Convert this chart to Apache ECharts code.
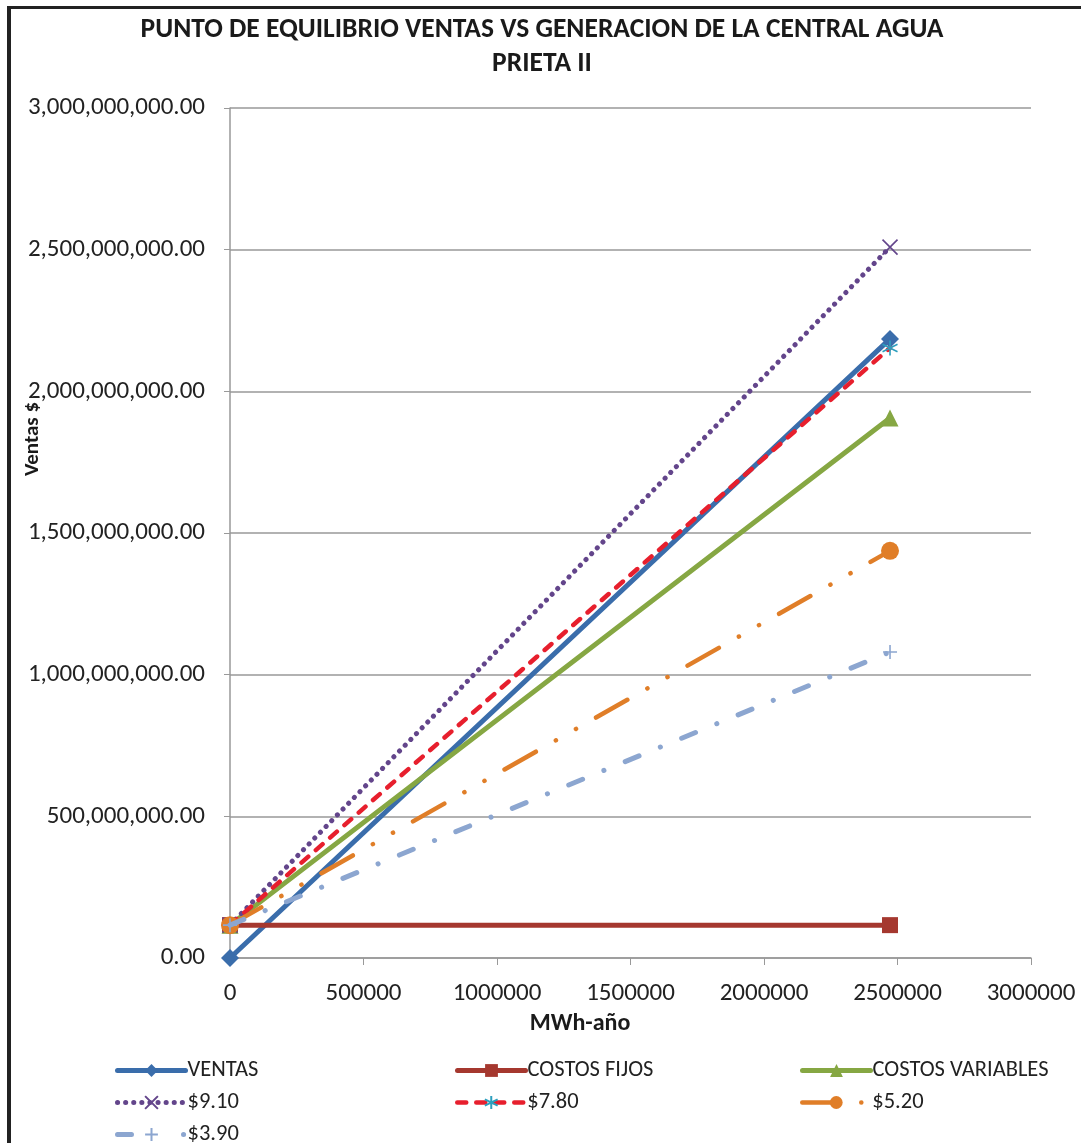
<!DOCTYPE html>
<html><head><meta charset="utf-8">
<script src="https://cdn.jsdelivr.net/npm/echarts@6/dist/echarts.min.js"></script>
<style>
html,body{margin:0;padding:0;background:#fff;}
#frame{position:absolute;left:7px;top:6px;width:1100px;height:1200px;border-left:4px solid #222;border-top:3px solid #222;}
#c{position:absolute;left:0;top:0;width:1081px;height:1143px;}
</style></head>
<body><div id="frame"></div><div id="c"></div>
<script>
const FONT = "Carlito, 'Liberation Sans Narrow', 'Open Sans', sans-serif";
const titleLines = ['PUNTO DE EQUILIBRIO VENTAS VS GENERACION DE LA CENTRAL AGUA', 'PRIETA II'];
const xName = 'MWh-año';
const yName = 'Ventas $';
const xEnd = 2472000;
const seriesNames = ['VENTAS','COSTOS FIJOS','COSTOS VARIABLES','$9.10','$7.80','$5.20','$3.90'];
const ventas = [0, 2185000000];
const costosFijos = [116000000, 116000000];
const costosVariables = [116000000, 1906000000];
const p910 = [116000000, 2509000000];
const p780 = [116000000, 2153000000];
const p520 = [116000000, 1437000000];
const p390 = [116000000, 1080000000];

const XPATH = 'path://M0,0L10,10M10,0L0,10';
const ASTPATH = 'path://M5,0L5,10M0,2.5L10,7.5M10,2.5L0,7.5';
const PLUSPATH = 'path://M5,0L5,10M0,5L10,5';

function pts(vals){ return [[0, vals[0]], [xEnd, vals[1]]]; }

const styles = [
 {data: ventas, color:'#3A6DAB', width:5, type:'solid', symbol:'diamond', size:18},
 {data: costosFijos, color:'#A5382F', width:5, type:'solid', symbol:'rect', size:16},
 {data: costosVariables, color:'#86A743', width:5, type:'solid', symbol:'triangle', size:17},
 {data: p910, color:'#63458B', width:5, type:[0.1,8], symbol:XPATH, size:15, stroke:'#63458B'},
 {data: p780, color:'#E71F2D', width:4.5, type:[9,10], symbol:ASTPATH, size:15, stroke:'#2D9FBE'},
 {data: p520, color:'#E07E28', width:4.5, type:[36,23,0.1,23,0.1,23], symbol:'circle', size:18},
 {data: p390, color:'#8CA6D0', width:5, type:[15,23,0.1,23], symbol:PLUSPATH, size:14, stroke:'#8CA6D0'}
];
const legendTypes = ['solid','solid','solid',[0.1,8],[9,10],[36,23,0.1,23],[14,52,0.1,100]];

const series = styles.map((s,i)=>{
  const o = {
    name: seriesNames[i], type:'line', data: pts(s.data),
    symbol: s.symbol, symbolSize: s.size, showSymbol:true,
    lineStyle:{color:s.color, width:s.width, type:s.type, cap:'round'},
    itemStyle:{color:s.color},
    emphasis:{disabled:true}, animation:false, z: 2+i
  };
  if (s.stroke) { o.itemStyle = {color:'rgba(0,0,0,0)', borderColor:s.stroke, borderWidth:1.6}; }
  return o;
});

const legendPos = [[115,1059],[455,1059],[800,1059],[115,1091],[455,1091],[800,1091],[115,1123]];
const legends = seriesNames.map((n,i)=>({
  data:[{name:n}], left:legendPos[i][0], top:legendPos[i][1], padding:0,
  itemWidth:68, itemHeight:16, itemGap:0, selectedMode:false,
  lineStyle:{width:styles[i].width, type:legendTypes[i], cap:'round'},
  textStyle:{fontFamily:FONT, fontSize:22.5, color:'#222', padding:[0,0,0,-3]}
}));

const chart = echarts.init(document.getElementById('c'), null, {renderer:'canvas'});
chart.setOption({
  animation:false,
  backgroundColor:'transparent',
  grid:{left:230, right:50, top:108, bottom:185, containLabel:false},
  title:{text: titleLines.join('\n'), left:537, textAlign:'center', top:8,
    textStyle:{fontFamily:FONT, fontSize:27.5, fontWeight:'bold', color:'#1a1a1a', lineHeight:34}},
  legend: legends,
  xAxis:{type:'value', min:0, max:3000000, interval:500000,
    axisLine:{show:true, lineStyle:{color:'#999', width:1.5}},
    axisTick:{show:true, length:7, lineStyle:{color:'#999'}},
    splitLine:{show:false},
    axisLabel:{fontFamily:FONT, fontSize:25, color:'#222', margin:23, formatter:v=>String(v)}},
  yAxis:{type:'value', min:0, max:3000000000, interval:500000000,
    axisLine:{show:true, lineStyle:{color:'#999', width:1.5}},
    axisTick:{show:true, length:6, lineStyle:{color:'#999'}},
    splitLine:{show:true, lineStyle:{color:'#999', width:1.5}},
    axisLabel:{fontFamily:FONT, fontSize:25, color:'#222', margin:25,
      formatter:v=>v.toLocaleString('en-US',{minimumFractionDigits:2, maximumFractionDigits:2})}},
  graphic:[
    {type:'text', x:33, y:439, rotation:Math.PI/2, style:{text:yName, fontFamily:FONT, fontSize:21, fontWeight:'bold', fill:'#1a1a1a', textAlign:'center', textVerticalAlign:'middle'}},
    {type:'text', x:580, y:1024, style:{text:xName, fontFamily:FONT, fontSize:24, fontWeight:'bold', fill:'#1a1a1a', textAlign:'center', textVerticalAlign:'middle'}}
  ],
  series: series
});
</script></body></html>
